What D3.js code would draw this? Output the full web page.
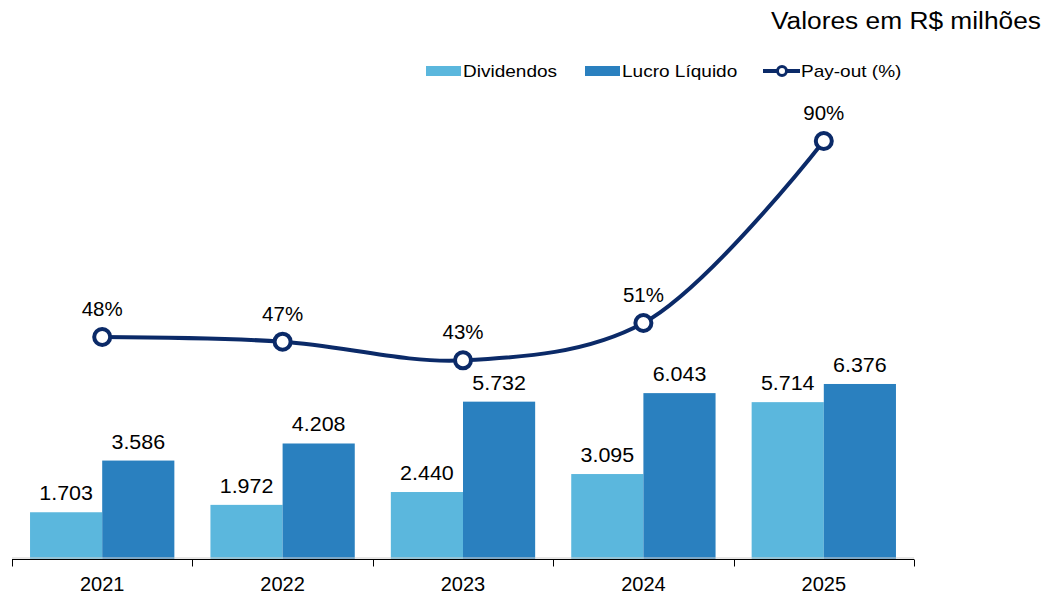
<!DOCTYPE html>
<html>
<head>
<meta charset="utf-8">
<script src="https://cdn.jsdelivr.net/npm/d3@7"></script>
<style>
  body { margin: 0; background: #fff; }
  text { font-family: "Liberation Sans", Arial, sans-serif; fill: #000; }
</style>
</head>
<body>
<div id="chart"></div>
<script>
// Data
const years = ["2021", "2022", "2023", "2024", "2025"];
const dividendos = [1703, 1972, 2440, 3095, 5714];
const lucro = [3586, 4208, 5732, 6043, 6376];
const payout = [48, 47, 43, 51, 90];
const seriesNames = ["Dividendos", "Lucro Líquido"];

const fmt = v => d3.format(",")(v).replace(/,/g, ".");

const W = 1053, H = 595;
const svg = d3.select("#chart").append("svg")
  .attr("width", W)
  .attr("height", H);

// text is a bit wider than tall in the original, so stretch it horizontally
const place = (x, y, sx) => `translate(${x},${y}) scale(${sx},1)`;

// Scales
const x = d3.scaleBand().domain(years).range([12, 914]).padding(0);
const xs = d3.scaleBand().domain(seriesNames).range([0, x.bandwidth()])
  .paddingInner(0).paddingOuter(0.25);
const y = d3.scaleLinear().domain([0, 20000]).range([559, 10]);
const yp = d3.scaleLinear().domain([0, 100]).range([561, 94.3]);

const colors = {"Dividendos": "#5bb7dd", "Lucro Líquido": "#2a80bf"};
const lineColor = "#0b2a68";

const rows = years.map((yr, i) => ({year: yr, "Dividendos": dividendos[i], "Lucro Líquido": lucro[i]}));

// Bars
const groups = svg.append("g").selectAll("g")
  .data(rows)
  .enter().append("g")
  .attr("transform", d => `translate(${x(d.year)},0)`);

groups.selectAll("rect")
  .data(d => seriesNames.map(s => ({s, v: d[s]})))
  .enter().append("rect")
  .attr("x", d => xs(d.s))
  .attr("y", d => y(d.v))
  .attr("width", xs.bandwidth())
  .attr("height", d => y(0) - y(d.v))
  .attr("fill", d => colors[d.s]);

groups.selectAll("text")
  .data(d => seriesNames.map(s => ({s, v: d[s]})))
  .enter().append("text")
  .attr("transform", d => place(xs(d.s) + xs.bandwidth() / 2, y(d.v) - 12, 1.1))
  .attr("text-anchor", "middle")
  .style("font-size", "19.5px")
  .text(d => fmt(d.v));

// Light base line and X axis
svg.append("line")
  .attr("x1", 12).attr("x2", 914)
  .attr("y1", 558).attr("y2", 558)
  .attr("stroke", "#d0d0d0").attr("stroke-width", 1);

const axis = svg.append("g")
  .attr("transform", "translate(0,559.5)");
axis.append("line")
  .attr("x1", 12).attr("x2", 914)
  .attr("stroke", "#000").attr("stroke-width", 1);
const ticks = years.map(yr => x(yr)).concat([x.range()[1]]);
axis.selectAll(".tick")
  .data(ticks)
  .enter().append("line")
  .attr("x1", d => Math.round(d) + 0.5).attr("x2", d => Math.round(d) + 0.5)
  .attr("y1", 0).attr("y2", 7)
  .attr("stroke", "#000");
axis.selectAll(".lab")
  .data(years)
  .enter().append("text")
  .attr("x", d => x(d) + x.bandwidth() / 2)
  .attr("y", 31)
  .attr("text-anchor", "middle")
  .style("font-size", "20px")
  .text(d => d);

// Pay-out line
const pts = years.map((yr, i) => ({year: yr, v: payout[i]}));
const line = d3.line()
  .x(d => x(d.year) + x.bandwidth() / 2)
  .y(d => yp(d.v))
  .curve(d3.curveCatmullRom.alpha(0.5));

svg.append("path")
  .datum(pts)
  .attr("d", line)
  .attr("fill", "none")
  .attr("stroke", lineColor)
  .attr("stroke-width", 4);

svg.selectAll(".pt")
  .data(pts)
  .enter().append("circle")
  .attr("cx", d => x(d.year) + x.bandwidth() / 2)
  .attr("cy", d => yp(d.v))
  .attr("r", 8)
  .attr("fill", "#fff")
  .attr("stroke", lineColor)
  .attr("stroke-width", 4);

svg.selectAll(".pl")
  .data(pts)
  .enter().append("text")
  .attr("x", d => x(d.year) + x.bandwidth() / 2)
  .attr("y", d => yp(d.v) - 21)
  .attr("text-anchor", "middle")
  .style("font-size", "20.5px")
  .text(d => d.v + "%");

// Title
svg.append("text")
  .attr("transform", place(1041, 29, 1.12))
  .attr("text-anchor", "end")
  .style("font-size", "23.5px")
  .text("Valores em R$ milhões");

// Legend
const leg = svg.append("g").attr("transform", "translate(0,71)");
leg.append("rect").attr("x", 426).attr("y", -5).attr("width", 35).attr("height", 10).attr("fill", colors["Dividendos"]);
leg.append("text").attr("transform", place(463, 6, 1.12)).style("font-size", "17px").text("Dividendos");
leg.append("rect").attr("x", 585).attr("y", -5).attr("width", 35).attr("height", 10).attr("fill", colors["Lucro Líquido"]);
leg.append("text").attr("transform", place(622, 6, 1.12)).style("font-size", "17px").text("Lucro Líquido");
leg.append("line").attr("x1", 763).attr("x2", 800).attr("y1", 0).attr("y2", 0)
  .attr("stroke", lineColor).attr("stroke-width", 4);
leg.append("circle").attr("cx", 782).attr("cy", 0).attr("r", 4.5)
  .attr("fill", "#fff").attr("stroke", lineColor).attr("stroke-width", 3);
leg.append("text").attr("transform", place(801, 6, 1.12)).style("font-size", "17px").text("Pay-out (%)");
</script>
</body>
</html>
